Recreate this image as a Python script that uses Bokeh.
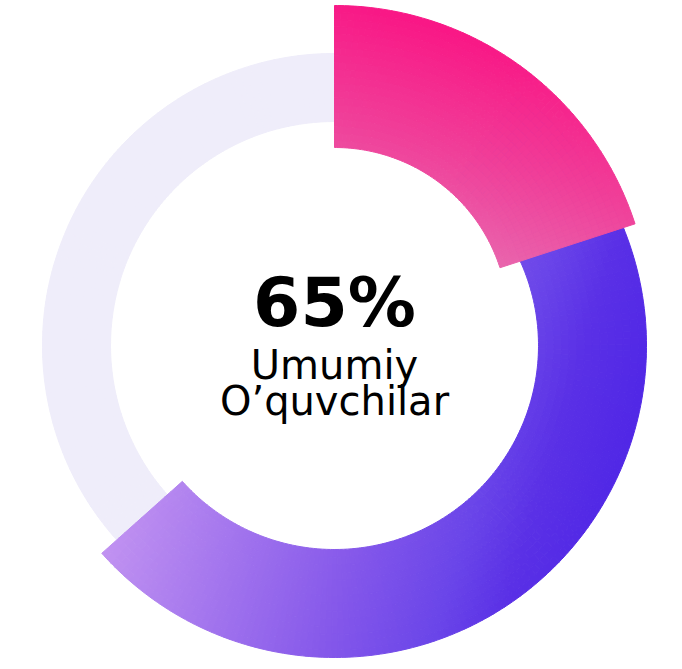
import numpy as np
from bokeh.plotting import figure
from bokeh.models import Range1d, ColumnDataSource
from bokeh.embed import file_html
from bokeh.resources import INLINE
from bokeh.core.properties import value

# ---------------- data ----------------
segments = ["Highlighted", "Main", "Remaining"]
shares = [20.0, 43.4, 36.6]          # percent of the full circle
headline = "65%"
caption_lines = ["Umumiy", "O’quvchilar"]

# ---------------- styles ----------------
W, H = 682, 669
X_RANGE = (-334, 348)
Y_RANGE = (-324, 345)
ring_style = {
    "Highlighted": dict(inner=174, outer=316, cx=0, cy=24),
    "Main": dict(inner=204, outer=312, cx=0, cy=0),
    "Remaining": dict(inner=224, outer=292, cx=0, cy=0),
}
gradient_style = {
    "Highlighted": dict(a=(196, 295), b=(134, 88),
                        stops=[(0.0, "#F91685"), (0.55, "#F03F99"), (1.0, "#E965AD")]),
    "Main": dict(a=(-232, -207), b=(238, -348),
                 stops=[(0.0, "#C192F1"), (0.5, "#8457EA"), (0.7, "#6A45E9"),
                        (0.82, "#5A30E6"), (1.0, "#4E25E6")]),
    "Remaining": dict(a=(0, 0), b=(1, 0),
                      stops=[(0.0, "#EFEDFA"), (1.0, "#EFEDFA")]),
}
SLICE_DEG = 1.2
BANDS = {"Highlighted": 20, "Main": 14, "Remaining": 1}


def hex_rgb(h):
    h = h.lstrip("#")
    return np.array([int(h[i:i + 2], 16) for i in (0, 2, 4)], dtype=float)


def grad_color(g, px, py):
    ax, ay = g["a"]
    bx, by = g["b"]
    dx, dy = bx - ax, by - ay
    t = ((px - ax) * dx + (py - ay) * dy) / (dx * dx + dy * dy)
    t = min(max(t, 0.0), 1.0)
    stops = g["stops"]
    for (t0, c0), (t1, c1) in zip(stops[:-1], stops[1:]):
        if t <= t1:
            f = 0.0 if t1 == t0 else (t - t0) / (t1 - t0)
            c = hex_rgb(c0) + f * (hex_rgb(c1) - hex_rgb(c0))
            return "#%02x%02x%02x" % tuple(int(round(v)) for v in c)
    return stops[-1][1]


# angular extent of each segment (clockwise from 12 o'clock)
bounds = {}
cum = 0.0
for name, s in zip(segments, shares):
    hi = 90.0 - cum * 3.6
    lo = 90.0 - (cum + s) * 3.6
    bounds[name] = (lo, hi)
    cum += s

# the main segment continues underneath the highlighted one
draw_bounds = dict(bounds)
lo_m, hi_m = bounds["Main"]
lo_h, hi_h = bounds["Highlighted"]
draw_bounds["Main"] = (lo_m, (lo_h + hi_h) / 2.0)


def slices(name):
    lo, hi = draw_bounds[name]
    st = ring_style[name]
    g = gradient_style[name]
    n = max(1, int(np.ceil((hi - lo) / SLICE_DEG)))
    edges = np.linspace(lo, hi, n + 1)
    redges = np.linspace(st["inner"], st["outer"], BANDS[name] + 1)
    d = dict(x=[], y=[], r0=[], r1=[], a0=[], a1=[], color=[])
    for r0, r1 in zip(redges[:-1], redges[1:]):
        rm = (r0 + r1) / 2.0
        for a0, a1 in zip(edges[:-1], edges[1:]):
            am = np.radians((a0 + a1) / 2.0)
            px = st["cx"] + rm * np.cos(am)
            py = st["cy"] + rm * np.sin(am)
            d["x"].append(st["cx"])
            d["y"].append(st["cy"])
            d["r0"].append(r0)
            d["r1"].append(r1)
            d["a0"].append(np.radians(a0))
            d["a1"].append(np.radians(a1))
            d["color"].append(grad_color(g, px, py))
    return ColumnDataSource(d)


p = figure(width=W, height=H, output_backend="svg", toolbar_location=None,
           x_range=Range1d(*X_RANGE), y_range=Range1d(*Y_RANGE),
           min_border=0, background_fill_color="white",
           border_fill_color="white", outline_line_color=None)
p.axis.visible = False
p.grid.visible = False

for name in ["Remaining", "Main", "Highlighted"]:
    src = slices(name)
    p.annular_wedge(x="x", y="y", inner_radius="r0", outer_radius="r1",
                    start_angle="a0", end_angle="a1", direction="anticlock",
                    fill_color="color", line_color="color", line_width=1,
                    source=src)

p.text(x=[0], y=[43], text=[headline], text_font=value("DejaVu Sans"),
       text_font_size="68px", text_font_style="bold", text_align="center",
       text_baseline="alphabetic", text_color="#000000")
p.text(x=[0, 0], y=[-19, -55], text=caption_lines,
       text_font=value("DejaVu Sans"), text_font_size="40px",
       text_align="center", text_baseline="alphabetic", text_color="#000000")

open("out.html", "w").write(file_html(p, INLINE))
